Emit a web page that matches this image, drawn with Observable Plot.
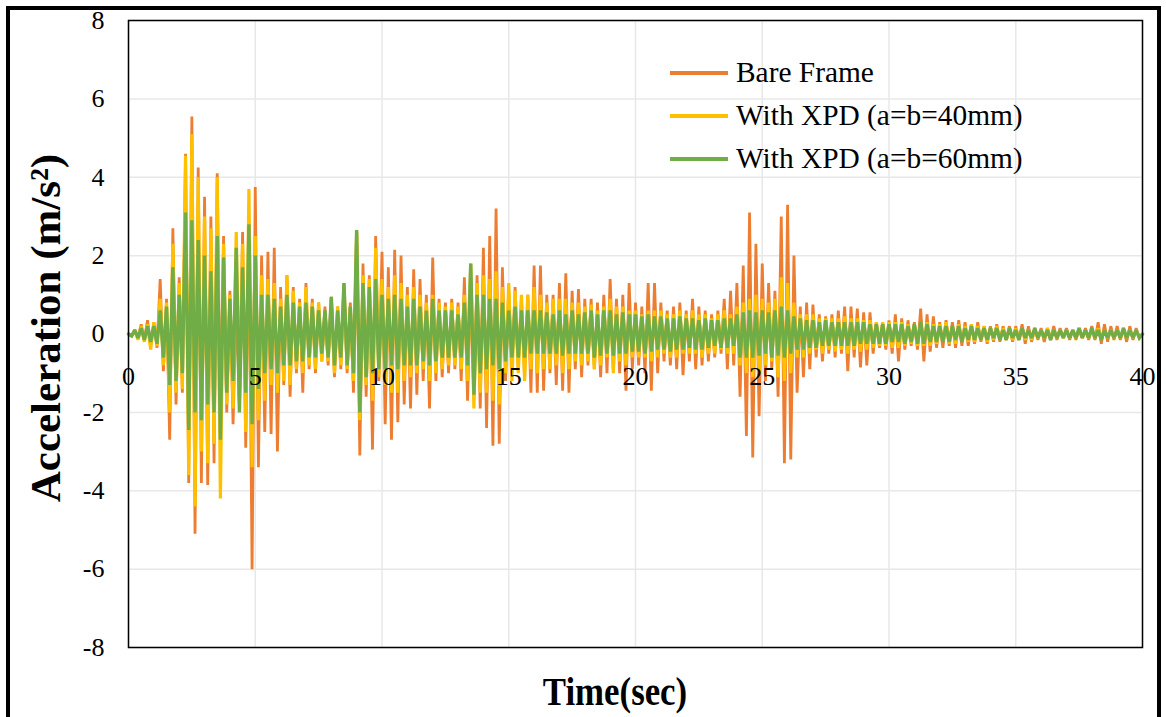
<!DOCTYPE html>
<html><head><meta charset="utf-8">
<script src="https://cdn.jsdelivr.net/npm/d3@7"></script>
<script src="https://cdn.jsdelivr.net/npm/@observablehq/plot@0.6"></script>
<style>
body{margin:0;background:#fff;}
#wrap{position:relative;width:1166px;height:717px;overflow:hidden;font-family:"Liberation Serif","Times New Roman",serif;color:#000;}
#border{position:absolute;left:6px;top:6px;width:1147px;height:730px;border:4px solid #000;}
#chart{position:absolute;left:0;top:0;}
#ytitle{position:absolute;left:45px;top:328px;transform:translate(-50%,-50%) rotate(-90deg);font-weight:bold;font-size:43px;white-space:nowrap;line-height:1;}
#xtitle{position:absolute;left:615px;top:692px;transform:translate(-50%,-50%) scaleX(0.87);font-weight:bold;font-size:40px;white-space:nowrap;line-height:1;}
#legend{position:absolute;left:670px;top:51px;font-size:29.4px;line-height:43px;}
.row{display:flex;align-items:center;height:43px;}
.sw{width:58px;height:4px;margin-right:8px;}
</style>
</head><body>
<div id="wrap">
<div id="border"></div>
<div id="chart"></div>
<div id="ytitle">Acceleration (m/s²)</div>
<div id="xtitle">Time(sec)</div>
<div id="legend"></div>
</div>
<script>
const seriesNames = ["Bare Frame", "With XPD (a=b=40mm)", "With XPD (a=b=60mm)"];
const seriesColors = ["#ED7D31", "#FFC000", "#70AD47"];
const seriesWidths = [2.8, 3.2, 3.4];
const xTicks = [0, 5, 10, 15, 20, 25, 30, 35, 40];
const yTicks = [-8, -6, -4, -2, 0, 2, 4, 6, 8];
const dt = 0.125; // sample step in seconds

const bareFrame = [
0,-0.05,0.1,-0.1,0.25,-0.15,0.35,-0.25,
0.3,-0.35,1.4,-0.95,0.9,-2.7,2.7,-1.8,
1.45,-1.5,4.6,-3.8,5.55,-5.1,4.25,-3.8,
3.5,-3.85,3.0,-3.3,4.1,-2.4,2.5,-2.0,
1.1,-2.3,0.9,-1.8,2.6,-2.9,2.9,-6.0,
3.75,-3.4,2.0,-2.5,2.1,-2.55,2.2,-3.0,
1.2,-1.3,1.5,-1.6,1.2,-1.0,0.9,-1.5,
1.3,-0.9,0.9,-1.0,0.8,-0.7,0.7,-0.8,
0.95,-1.1,0.7,-0.9,1.3,-1.0,0.8,-1.5,
2.65,-3.1,1.8,-1.6,1.5,-2.95,2.5,-1.2,
2.1,-2.3,1.7,-2.7,2.15,-2.25,2.0,-1.8,
1.2,-1.9,1.65,-1.55,1.4,-1.2,1.0,-1.9,
1.95,-1.2,0.9,-1.1,0.8,-1.0,0.9,-0.9,
0.8,-1.2,1.45,-1.7,1.3,-1.6,1.5,-1.9,
2.2,-2.4,2.5,-2.85,3.2,-2.8,1.7,-1.2,
1.1,-1.0,1.2,-0.9,0.9,-1.1,1.0,-1.5,
1.75,-1.5,1.75,-1.45,1.0,-1.0,1.0,-1.3,
1.3,-1.45,1.55,-1.5,1.1,-0.9,1.15,-1.1,
0.9,-0.8,0.9,-0.9,0.8,-1.1,1.0,-1.0,
1.4,-0.9,0.9,-1.0,1.0,-1.45,1.3,-0.9,
0.8,-0.8,0.7,-1.0,1.3,-1.45,1.3,-1.0,
0.8,-0.7,0.6,-0.8,0.7,-0.9,0.8,-1.05,
0.6,-0.7,0.9,-0.9,0.7,-0.8,0.6,-0.7,
0.5,-0.6,0.6,-0.5,0.9,-0.9,1.1,-0.8,
1.3,-1.6,1.75,-2.6,3.1,-3.15,2.3,-2.1,
1.8,-1.2,1.3,-0.9,1.1,-1.6,3.0,-3.3,
3.3,-3.2,2.0,-1.5,0.7,-1.1,0.8,-0.9,
0.75,-0.6,0.5,-0.7,0.45,-0.5,0.5,-0.6,
0.6,-0.5,0.7,-0.95,0.7,-0.6,0.65,-0.85,
0.55,-0.8,0.55,-0.5,0.3,-0.35,0.3,-0.4,
0.35,-0.5,0.5,-0.7,0.4,-0.4,0.35,-0.3,
0.3,-0.4,0.65,-0.7,0.5,-0.45,0.45,-0.35,
0.3,-0.35,0.35,-0.3,0.3,-0.35,0.35,-0.3,
0.3,-0.3,0.25,-0.25,0.3,-0.2,0.2,-0.25,
0.2,-0.2,0.25,-0.2,0.2,-0.15,0.2,-0.2,
0.2,-0.15,0.25,-0.25,0.2,-0.2,0.15,-0.15,
0.15,-0.2,0.15,-0.15,0.2,-0.15,0.15,-0.1,
0.15,-0.15,0.1,-0.15,0.15,-0.1,0.15,-0.15,
0.2,-0.15,0.3,-0.25,0.25,-0.2,0.2,-0.15,
0.2,-0.15,0.15,-0.2,0.2,-0.15,0.15,-0.1,
0];

const xpd40 = [
0,-0.05,0.1,-0.15,0.2,-0.2,0.25,-0.4,
0.3,-0.3,0.9,-0.8,0.8,-2.0,2.3,-1.5,
1.3,-1.4,4.55,-3.6,5.1,-4.4,4.0,-3.0,
3.0,-3.3,2.7,-2.8,4.0,-4.2,2.3,-1.8,
1.0,-1.9,2.6,-1.7,2.3,-2.5,3.7,-3.4,
2.5,-2.2,1.5,-1.7,1.4,-1.3,1.3,-1.5,
0.9,-1.2,1.5,-1.3,1.1,-0.9,0.8,-1.0,
1.2,-0.8,0.8,-0.9,0.8,-0.7,0.6,-0.7,
0.9,-1.0,0.7,-0.8,1.2,-0.9,0.7,-1.2,
2.6,-2.2,1.5,-1.3,1.4,-1.7,2.2,-1.1,
1.4,-1.3,1.2,-1.5,1.5,-1.5,1.3,-1.2,
1.0,-1.1,1.2,-1.0,1.0,-0.9,0.8,-1.2,
1.0,-1.0,0.8,-0.9,0.7,-0.8,0.8,-0.8,
0.7,-0.9,1.0,-1.2,1.8,-1.9,1.3,-1.5,
1.5,-1.5,1.4,-1.7,1.6,-1.8,1.2,-1.0,
1.3,-1.2,1.1,-1.0,1.0,-1.2,1.0,-0.9,
1.2,-1.0,1.0,-0.9,0.8,-0.9,0.9,-0.8,
0.9,-1.0,0.9,-0.9,0.8,-0.7,0.8,-0.8,
0.7,-0.7,0.75,-0.9,0.6,-0.8,0.7,-0.6,
0.9,-1.0,0.7,-0.7,0.7,-0.8,0.6,-0.6,
0.6,-0.6,0.5,-0.6,0.6,-0.7,0.6,-0.6,
0.6,-0.5,0.5,-0.6,0.5,-0.6,0.6,-0.5,
0.5,-0.5,0.6,-0.5,0.5,-0.6,0.5,-0.5,
0.4,-0.5,0.5,-0.4,0.6,-0.5,0.5,-0.5,
0.7,-0.8,0.8,-1.0,0.9,-1.1,1.0,-1.0,
0.9,-0.8,0.8,-0.7,0.9,-1.1,1.45,-1.2,
1.3,-1.0,0.8,-0.6,0.5,-0.6,0.5,-0.5,
0.5,-0.4,0.4,-0.5,0.4,-0.4,0.4,-0.45,
0.4,-0.4,0.45,-0.5,0.4,-0.4,0.4,-0.45,
0.35,-0.4,0.35,-0.35,0.3,-0.3,0.3,-0.3,
0.3,-0.35,0.3,-0.35,0.3,-0.3,0.25,-0.25,
0.25,-0.3,0.3,-0.3,0.3,-0.3,0.25,-0.25,
0.25,-0.2,0.3,-0.25,0.2,-0.25,0.25,-0.2,
0.2,-0.2,0.25,-0.2,0.2,-0.15,0.2,-0.2,
0.15,-0.15,0.2,-0.15,0.15,-0.15,0.15,-0.15,
0.15,-0.1,0.15,-0.15,0.1,-0.15,0.1,-0.1,
0.1,-0.1,0.15,-0.1,0.1,-0.1,0.1,-0.1,
0.1,-0.1,0.1,-0.1,0.1,-0.1,0.1,-0.1,
0.1,-0.1,0.15,-0.1,0.1,-0.1,0.1,-0.1,
0.1,-0.1,0.1,-0.1,0.1,-0.1,0.1,-0.1,
0];

const xpd60 = [
0,-0.05,0.1,-0.1,0.15,-0.15,0.2,-0.2,
0.2,-0.25,0.6,-0.6,0.7,-1.3,1.7,-1.2,
1.0,-1.0,3.1,-2.45,2.9,-2.0,2.4,-2.2,
2.0,-1.8,1.6,-2.0,2.5,-2.7,1.95,-1.5,
0.9,-1.2,2.2,-2.0,1.7,-1.5,2.8,-2.3,
2.0,-1.4,1.0,-1.0,1.0,-0.9,0.9,-1.0,
0.7,-0.8,1.0,-0.8,0.8,-0.7,0.7,-0.7,
0.8,-0.6,0.7,-0.6,0.6,-0.5,0.6,-0.6,
0.95,-0.8,0.6,-0.6,1.3,-0.8,0.7,-1.0,
2.65,-2.0,1.3,-1.1,1.2,-1.0,1.4,-0.9,
1.0,-0.9,0.9,-0.8,1.0,-0.9,0.9,-0.8,
0.7,-0.8,0.9,-0.8,0.7,-0.7,0.6,-0.8,
0.9,-0.7,0.6,-0.6,0.6,-0.6,0.6,-0.6,
0.5,-0.6,0.8,-0.8,1.8,-1.55,1.0,-1.0,
1.0,-0.9,0.9,-0.8,0.9,-0.9,0.8,-0.7,
0.6,-0.6,0.7,-0.6,0.6,-0.6,0.6,-0.5,
0.6,-0.5,0.6,-0.5,0.55,-0.5,0.5,-0.5,
0.6,-0.55,0.5,-0.5,0.6,-0.5,0.5,-0.5,
0.55,-0.5,0.6,-0.6,0.5,-0.55,0.6,-0.5,
0.6,-0.55,0.5,-0.5,0.55,-0.5,0.5,-0.45,
0.5,-0.45,0.45,-0.5,0.5,-0.45,0.45,-0.4,
0.45,-0.4,0.4,-0.45,0.4,-0.4,0.45,-0.4,
0.4,-0.35,0.4,-0.4,0.35,-0.4,0.4,-0.35,
0.35,-0.3,0.35,-0.35,0.4,-0.35,0.4,-0.3,
0.5,-0.6,0.55,-0.6,0.6,-0.6,0.55,-0.55,
0.6,-0.5,0.55,-0.6,0.6,-0.55,0.7,-0.6,
0.6,-0.5,0.45,-0.4,0.4,-0.4,0.35,-0.35,
0.35,-0.35,0.3,-0.3,0.35,-0.3,0.3,-0.3,
0.3,-0.3,0.3,-0.3,0.3,-0.3,0.3,-0.25,
0.3,-0.25,0.25,-0.25,0.25,-0.25,0.25,-0.25,
0.25,-0.2,0.25,-0.2,0.25,-0.25,0.2,-0.2,
0.25,-0.25,0.3,-0.25,0.25,-0.2,0.2,-0.2,
0.2,-0.2,0.2,-0.2,0.2,-0.15,0.2,-0.2,
0.15,-0.15,0.2,-0.15,0.15,-0.15,0.15,-0.15,
0.15,-0.1,0.15,-0.15,0.1,-0.15,0.15,-0.1,
0.1,-0.15,0.15,-0.1,0.1,-0.1,0.15,-0.1,
0.1,-0.1,0.1,-0.15,0.1,-0.1,0.1,-0.1,
0.1,-0.1,0.1,-0.1,0.15,-0.1,0.1,-0.1,
0.15,-0.1,0.1,-0.15,0.1,-0.1,0.1,-0.1,
0.1,-0.1,0.15,-0.1,0.1,-0.1,0.1,-0.1,
0];

const allSeries = [bareFrame, xpd40, xpd60];
const toRows = vals => vals.map((a, i) => ({t: i * dt, a}));

const font = '"Liberation Serif","Times New Roman",serif';
const chart = Plot.plot({
  width: 1166, height: 717,
  marginLeft: 128, marginRight: 24, marginTop: 20, marginBottom: 70,
  style: {fontFamily: font, fontSize: "26px", color: "#000", background: "transparent", overflow: "visible"},
  x: {domain: [0, 40], axis: null},
  y: {domain: [-8, 8], ticks: yTicks, tickSize: 0, tickPadding: 24, label: null, tickFormat: d => String(d)},
  marks: [
    Plot.ruleX(xTicks, {x: d => d, stroke: "#e8e8e8", strokeWidth: 1.5}),
    Plot.ruleY(yTicks, {y: d => d, stroke: "#e8e8e8", strokeWidth: 1.5}),
    ...allSeries.map((vals, i) => Plot.line(toRows(vals), {x: "t", y: "a", stroke: seriesColors[i], strokeWidth: seriesWidths[i], strokeLinejoin: "miter", strokeMiterlimit: 2})),
    Plot.frame({stroke: "#000", strokeWidth: 1.5}),
    Plot.text(xTicks, {x: d => d, y: d => 0, text: d => String(d), dy: 43, fontSize: 26, fill: "#000"})
  ]
});
document.getElementById("chart").appendChild(chart);

const legend = d3.select("#legend");
seriesNames.forEach((n, i) => {
  const row = legend.append("div").attr("class", "row");
  row.append("div").attr("class", "sw").style("background", seriesColors[i]);
  row.append("span").text(n);
});
</script>
</body></html>
